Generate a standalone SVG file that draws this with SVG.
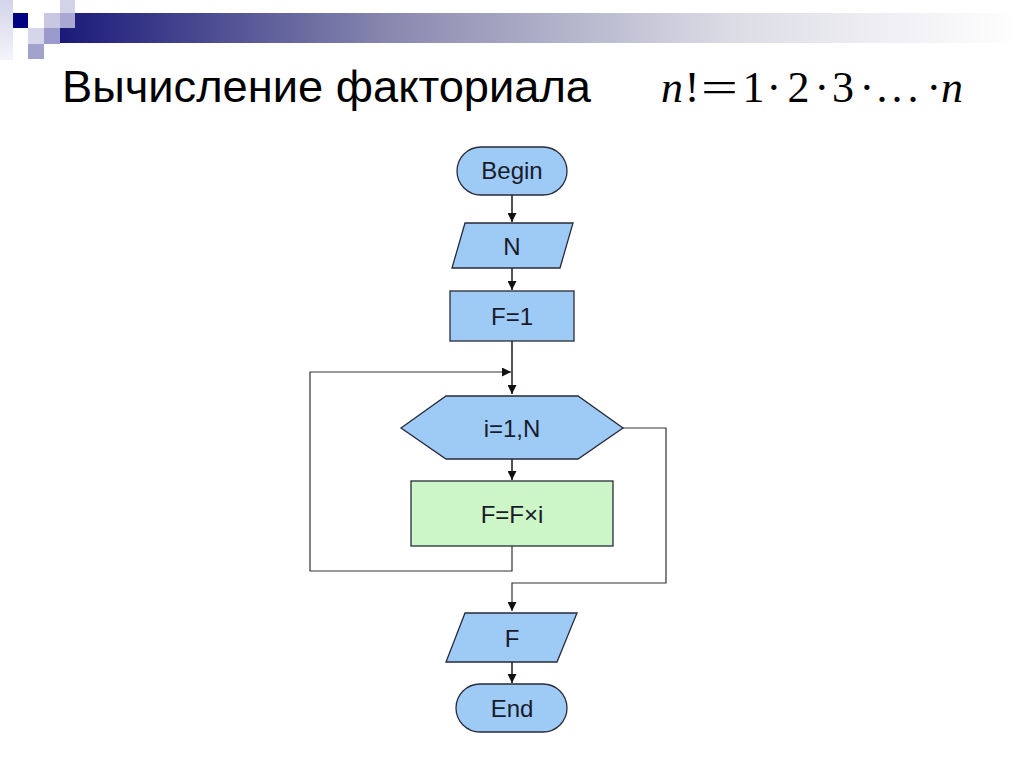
<svg xmlns="http://www.w3.org/2000/svg" width="1024" height="767" viewBox="0 0 1024 767">
<defs>
<linearGradient id="bar" x1="0" y1="0" x2="1" y2="0">
<stop offset="0" stop-color="#1a1a7a"/>
<stop offset="0.35" stop-color="#8a8ab0"/>
<stop offset="0.7" stop-color="#dcdce6"/>
<stop offset="1" stop-color="#ffffff"/>
</linearGradient>
<linearGradient id="lcol" x1="0" y1="0" x2="0" y2="1">
<stop offset="0" stop-color="#d4d4ea"/>
<stop offset="1" stop-color="#f4f4fa"/>
</linearGradient>
<marker id="arr" viewBox="0 0 10 10" refX="10" refY="5" markerWidth="9" markerHeight="9" markerUnits="userSpaceOnUse" orient="auto">
<path d="M0,0 L10,5 L0,10 z" fill="#111"/>
</marker>
</defs>
<style>
.blue{fill:#9dcbf6;stroke:#2a2a3a;stroke-width:1.3}
.green{fill:#ccf5c8;stroke:#2a2a3a;stroke-width:1.3}
.lbl{font-family:"Liberation Sans",Arial,sans-serif;font-size:24px;fill:#1a1a2a;text-anchor:middle}
.conn{fill:none;stroke:#1a1a1a;stroke-width:1.5}
.loop{fill:none;stroke:#333;stroke-width:1.2}
.m{font-family:"Liberation Serif","Times New Roman",serif;font-size:44px;fill:#000}
.i{font-style:italic}
</style>
<rect width="1024" height="767" fill="#ffffff"/>
<g id="header">
<rect x="0" y="0" width="13" height="60" fill="url(#lcol)"/>
<rect x="60" y="13" width="960" height="30" fill="url(#bar)"/>
<rect x="13" y="13" width="15" height="15" fill="#000080"/>
<rect x="60" y="0" width="15" height="13" fill="#d2d2e8"/>
<rect x="44" y="13" width="16" height="15" fill="#c8c8e2"/>
<rect x="60" y="13" width="15" height="15" fill="#a8a8d2"/>
<rect x="28" y="28" width="16" height="16" fill="#d6d6ea"/>
<rect x="44" y="28" width="16" height="16" fill="#9a9acc"/>
<rect x="28" y="44" width="16" height="15" fill="#a2a2cc"/>
</g>
<g id="title">
<text x="62" y="102" font-family="'Liberation Sans',Arial,sans-serif" font-size="44" fill="#000" textLength="529" lengthAdjust="spacingAndGlyphs">Вычисление факториала</text>
<text class="m" y="102"><tspan class="i" x="661">n</tspan><tspan x="684.7">!</tspan></text>
<text class="m" x="701" y="102" textLength="37" lengthAdjust="spacingAndGlyphs">=</text>
<text class="m" y="102"><tspan x="742.5">1</tspan><tspan x="766.5">·</tspan><tspan x="787.5">2</tspan><tspan x="814.5">·</tspan><tspan x="832">3</tspan><tspan x="859.5">·</tspan><tspan x="876.5">.</tspan><tspan x="891.5">.</tspan><tspan x="907.5">.</tspan><tspan x="926.5">·</tspan><tspan class="i" x="941">n</tspan></text>
</g>
<g id="connectors">
<line class="conn" x1="512" y1="195" x2="512" y2="222" marker-end="url(#arr)"/>
<line class="conn" x1="512" y1="268" x2="512" y2="290" marker-end="url(#arr)"/>
<line class="conn" x1="512" y1="341" x2="512" y2="394" marker-end="url(#arr)"/>
<polyline class="loop" points="512,546 512,571 310,571 310,372 511,372" marker-end="url(#arr)"/>
<line class="conn" x1="512" y1="455" x2="512" y2="480" marker-end="url(#arr)"/>
<polyline class="loop" points="623,428 666,428 666,583 512,583 512,611" marker-end="url(#arr)"/>
<line class="conn" x1="512" y1="662" x2="512" y2="683" marker-end="url(#arr)"/>
</g>
<g id="begin">
<rect class="blue" x="457" y="147" width="110" height="48" rx="24"/>
<text class="lbl" x="512" y="179">Begin</text>
</g>
<g id="inputN">
<polygon class="blue" points="465,223 573,223 560,268 452,268"/>
<text class="lbl" x="512" y="255">N</text>
</g>
<g id="init">
<rect class="blue" x="450" y="291" width="124" height="50"/>
<text class="lbl" x="512" y="325">F=1</text>
</g>
<g id="loop">
<polygon class="blue" points="401,428 446,396 578,396 623,428 578,459 446,459"/>
<text class="lbl" x="512" y="437">i=1,N</text>
</g>
<g id="body">
<rect class="green" x="411" y="481" width="202" height="65"/>
<text class="lbl" x="512" y="523">F=F×i</text>
</g>
<g id="outputF">
<polygon class="blue" points="465,613 577,613 557,662 446,662"/>
<text class="lbl" x="512" y="647">F</text>
</g>
<g id="end">
<rect class="blue" x="456" y="684" width="111" height="48" rx="24"/>
<text class="lbl" x="512" y="717">End</text>
</g>
</svg>
